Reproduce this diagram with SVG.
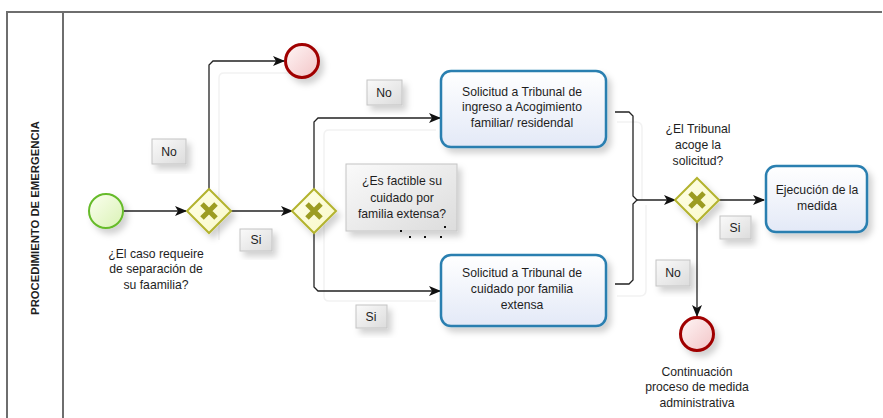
<svg xmlns="http://www.w3.org/2000/svg" width="883" height="418" viewBox="0 0 883 418">
<defs>
<linearGradient id="gTask" x1="0" y1="0" x2="0" y2="1"><stop offset="0" stop-color="#ffffff"/><stop offset="1" stop-color="#e3e9f7"/></linearGradient>
<linearGradient id="gStart" x1="0" y1="0" x2="1" y2="1"><stop offset="0" stop-color="#fbfff0"/><stop offset="1" stop-color="#d9f2b4"/></linearGradient>
<linearGradient id="gEnd" x1="0" y1="0" x2="1" y2="1"><stop offset="0" stop-color="#fff6f6"/><stop offset="1" stop-color="#f2c4c6"/></linearGradient>
<linearGradient id="gGate" x1="0" y1="0" x2="1" y2="1"><stop offset="0" stop-color="#ffffe8"/><stop offset="1" stop-color="#f8f8c8"/></linearGradient>
<linearGradient id="gLab" x1="0" y1="0" x2="1" y2="1"><stop offset="0" stop-color="#fafafa"/><stop offset="1" stop-color="#dcdcdc"/></linearGradient>
<filter id="sh" x="-30%" y="-30%" width="170%" height="170%"><feDropShadow dx="4" dy="5" stdDeviation="3" flood-color="#000" flood-opacity="0.18"/></filter>
<marker id="arr" viewBox="0 0 12 10" refX="11" refY="5" markerWidth="12" markerHeight="10" markerUnits="userSpaceOnUse" orient="auto"><path d="M0,0 L12,5 L0,10 L3,5 Z" fill="#111"/></marker>
</defs>
<style>
.pool{fill:none;stroke:#6e6e6e;stroke-width:2}
.task{fill:url(#gTask);stroke:#2a7fb0;stroke-width:2.5;filter:url(#sh)}
.start{fill:url(#gStart);stroke:#66bb2a;stroke-width:2;filter:url(#sh)}
.end{fill:url(#gEnd);stroke:#a00000;stroke-width:3;filter:url(#sh)}
.gate{fill:url(#gGate);stroke:#b3b32e;stroke-width:2;filter:url(#sh)}
.x{stroke:#9c9c22;stroke-width:5;stroke-linecap:butt}
.lab{fill:url(#gLab);stroke:#c4c4c4;stroke-width:1;filter:url(#sh)}
.conn{fill:none;stroke:#222;stroke-width:1.3}
.ghost{fill:none;stroke:#f2f2f2;stroke-width:1.5}
text{font-family:"Liberation Sans",Arial,sans-serif;font-size:12.2px;fill:#1e1e1e;text-anchor:middle}
.pt{font-weight:bold;font-size:11.3px}
</style>
<rect x="0" y="0" width="883" height="418" fill="#ffffff"/>
<g id="pool">
<path class="pool" d="M882,12 H7 V420 M63,12 V420"/>
<text class="pt" transform="translate(39,218) rotate(-90)">PROCEDIMIENTO DE EMERGENCIA</text>
</g>
<g id="ghosts">
<path class="ghost" d="M219,240 V78 Q219,73 224,73 H292"/>
<path class="ghost" d="M324,240 V135 Q324,130 329,130 H436"/>
<path class="ghost" d="M324,240 V296 Q324,301 329,301 H436"/>
<path class="ghost" d="M617,122 H636 Q642,122 642,128 V200"/>
<path class="ghost" d="M646,205 V290 Q646,296 640,296 H617"/>
</g>
<g id="connectors">
<path class="conn" d="M124,211 H186" marker-end="url(#arr)"/>
<path class="conn" d="M209,189 V65 L213,61 H284" marker-end="url(#arr)"/>
<path class="conn" d="M231,211 H292" marker-end="url(#arr)"/>
<path class="conn" d="M314,189 V122 L318,118 H440" marker-end="url(#arr)"/>
<path class="conn" d="M314,233 V287 L318,291 H440" marker-end="url(#arr)"/>
<path class="conn" d="M615,112 H629 L633,116 V196 L637,200 L633,204 V280 L629,284 H615"/>
<path class="conn" d="M637,200 H675" marker-end="url(#arr)"/>
<path class="conn" d="M719,200 H764" marker-end="url(#arr)"/>
<path class="conn" d="M697,222 V316" marker-end="url(#arr)"/>
</g>
<g id="start">
<circle class="start" cx="106" cy="211" r="17"/>
<text x="156" y="258">¿El caso requeire</text>
<text x="156" y="273">de separación de</text>
<text x="156" y="289">su faamilia?</text>
</g>
<g id="gw1">
<polygon class="gate" points="209,189 231,211 209,233 187,211"/>
<path class="x" d="M202,204 L216,218 M216,204 L202,218"/>
</g>
<g id="end1">
<circle class="end" cx="302" cy="61" r="16.5"/>
</g>
<g id="gw2">
<polygon class="gate" points="314,189 336,211 314,233 292,211"/>
<path class="x" d="M307,204 L321,218 M321,204 L307,218"/>
</g>
<g id="annot">
<rect class="lab" x="346" y="164" width="111" height="67"/>
<text x="402" y="185">¿Es factible su</text>
<text x="402" y="202">cuidado por</text>
<text x="402" y="218">familia extensa?</text>
<g fill="#111"><rect x="400" y="230" width="2" height="2"/><rect x="409" y="236" width="2" height="2"/><rect x="424" y="236" width="2" height="2"/><rect x="440" y="236" width="2" height="2"/><rect x="444" y="226" width="2" height="2"/></g>
</g>
<g id="task1">
<rect class="task" x="441" y="71" width="165" height="76" rx="10"/>
<text x="522" y="96">Solicitud a Tribunal de</text>
<text x="522" y="111">ingreso a Acogimiento</text>
<text x="522" y="127">familiar/ residendal</text>
</g>
<g id="task2">
<rect class="task" x="441" y="255" width="165" height="71" rx="10"/>
<text x="522" y="277">Solicitud a Tribunal de</text>
<text x="522" y="293">cuidado por familia</text>
<text x="522" y="309">extensa</text>
</g>
<g id="gw3">
<polygon class="gate" points="697,178 719,200 697,222 675,200"/>
<path class="x" d="M690,193 L704,207 M704,193 L690,207"/>
<text x="698" y="133">¿El Tribunal</text>
<text x="698" y="149">acoge la</text>
<text x="698" y="165">solicitud?</text>
</g>
<g id="task3">
<rect class="task" x="766" y="166" width="101" height="66" rx="10"/>
<text x="817" y="194">Ejecución de la</text>
<text x="817" y="210">medida</text>
</g>
<g id="end2">
<circle class="end" cx="697" cy="334" r="16.5"/>
<text x="697" y="376">Continuación</text>
<text x="697" y="391">proceso de medida</text>
<text x="697" y="407">administrativa</text>
</g>
<g id="labels">
<rect class="lab" x="152" y="139" width="34" height="25"/><text x="169" y="156">No</text>
<rect class="lab" x="240" y="229" width="32" height="22"/><text x="256" y="244">Si</text>
<rect class="lab" x="367" y="80" width="35" height="25"/><text x="384" y="97">No</text>
<rect class="lab" x="356" y="305" width="31" height="23"/><text x="371" y="321">Si</text>
<rect class="lab" x="720" y="216" width="31" height="23"/><text x="735" y="232">Si</text>
<rect class="lab" x="656" y="260" width="34" height="26"/><text x="673" y="277">No</text>
</g>
</svg>
